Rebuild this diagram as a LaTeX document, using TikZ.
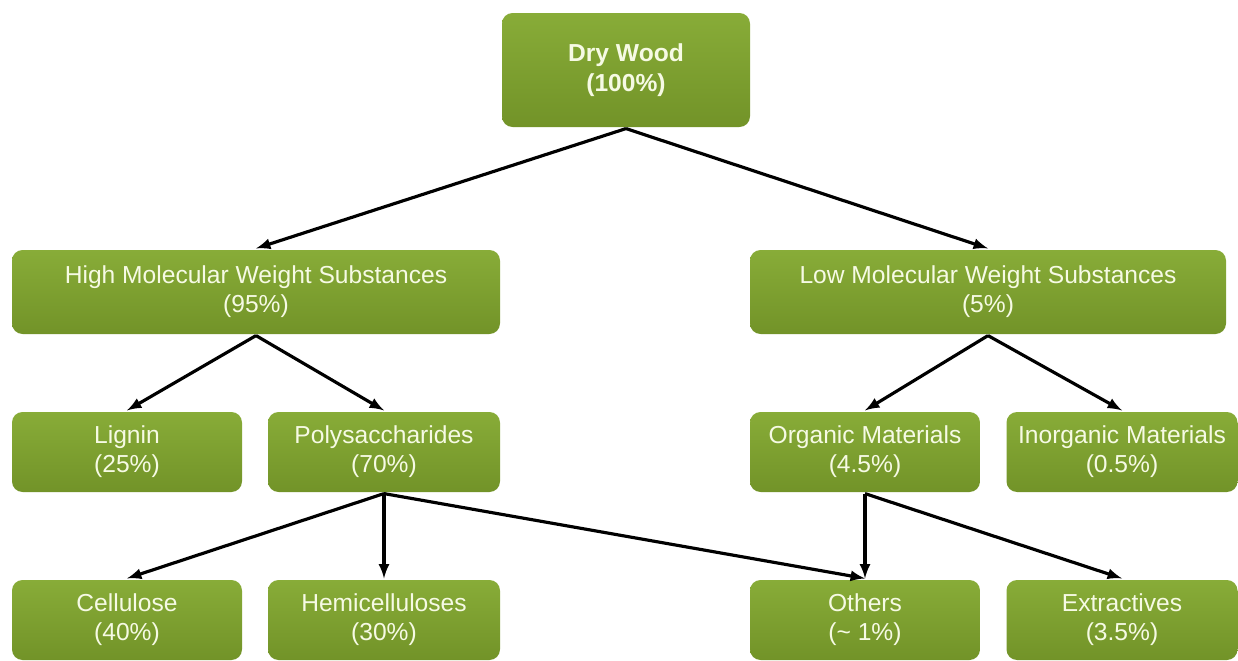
\documentclass[tikz,border=0pt]{standalone}
\usepackage{fontspec}
\setmainfont{Liberation Sans}
\usetikzlibrary{arrows}
\definecolor{woodtop}{RGB}{136,172,56}
\definecolor{woodbottom}{RGB}{114,147,40}
\definecolor{woodtext}{RGB}{246,250,228}

\begin{document}
\begin{tikzpicture}[x=0.02cm,y=-0.02cm,->,>=latex,line width=1.8pt,
  wood node/.style={rectangle,rounded corners=6pt,top color=woodtop,bottom color=woodbottom,
    draw=none,text=woodtext,align=center,font=\fontsize{14}{16.5}\selectfont,inner sep=0pt}]

  \useasboundingbox (0,0) rectangle (1238,660);

  \node[wood node,minimum width=248*0.02cm,minimum height=114*0.02cm,font=\bfseries\fontsize{14}{17}\selectfont]
    (wood) at (626,70) {Dry Wood\\(100\%)};

  \foreach \place/\x/\w/\h/\txt in {
    {(256,292)/high/488/84/High Molecular Weight Substances\\(95\%)},
    {(988,292)/low/476/84/Low Molecular Weight Substances\\(5\%)},
    {(127,452)/lignin/230/80/Lignin\\(25\%)},
    {(384,452)/poly/232/80/Polysaccharides\\(70\%)},
    {(865,452)/organic/230/80/Organic Materials\\(4.5\%)},
    {(1122,452)/inorganic/231/80/Inorganic Materials\\(0.5\%)},
    {(127,620)/cellulose/230/80/Cellulose\\(40\%)},
    {(384,620)/hemi/232/80/Hemicelluloses\\(30\%)},
    {(865,620)/others/230/80/Others\\(\textasciitilde{} 1\%)},
    {(1122,620)/extract/231/80/Extractives\\(3.5\%)}}
  \node[wood node,minimum width=\w*0.02cm,minimum height=\h*0.02cm] (\x) at \place {\txt};

  \path
    (wood.south) edge (high.north)
    (wood.south) edge (low.north)
    (high.south) edge (lignin.north)
    (high.south) edge (poly.north)
    (low.south) edge (organic.north)
    (low.south) edge (inorganic.north)
    (poly.south) edge (cellulose.north)
    (poly.south) edge (hemi.north)
    (poly.south) edge (others.north)
    (organic.south) edge (others.north)
    (organic.south) edge (extract.north);
\end{tikzpicture}
\end{document}
